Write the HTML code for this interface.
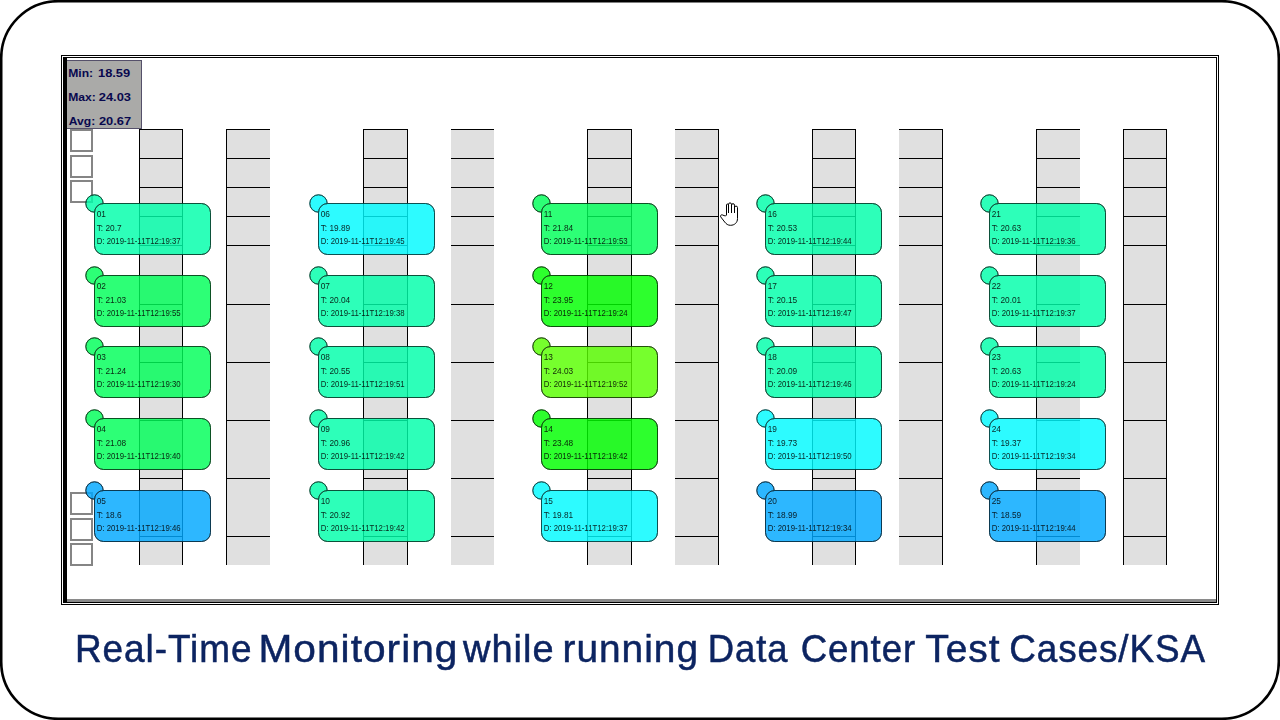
<!DOCTYPE html>
<html><head><meta charset="utf-8">
<style>
html,body{margin:0;padding:0;background:#fff;}
body{width:1280px;height:720px;overflow:hidden;position:relative;font-family:"Liberation Sans",sans-serif;}
.a{position:absolute;box-sizing:border-box;}
#outer{left:61px;top:55px;width:1158px;height:550px;border:1px solid #000;}
#inner{left:63px;top:57px;width:1154px;height:546px;border:1px solid #000;border-left:4px solid #000;background:#fff;}
#inner .gb{left:0;bottom:0;width:100%;height:3px;background:#8a8a8a;}
#stats{left:67px;top:60px;width:75px;height:69px;background:#aaaaa8;border:1px solid #55506a;border-left:0;}
.sq{width:23px;height:23px;border:2px solid #858585;background:#fff;}
.rk{background:#e0e0e0;border-top:1px solid #000;}
.hl{height:1px;background:#000;}
.vl{width:1px;background:#000;}
</style></head><body>
<svg class="a" style="left:0;top:0" width="1280" height="720"><rect x="1.2" y="1.2" width="1277.6" height="717.6" rx="57" ry="57" fill="none" stroke="#000" stroke-width="2.6"/></svg>
<div class="a" id="outer"></div>
<div class="a" id="inner"><div class="a gb"></div></div>

<div class="a rk" style="left:139px;top:129px;width:44px;height:436px"></div>
<div class="a vl" style="left:139px;top:129px;height:436px"></div>
<div class="a vl" style="left:182px;top:129px;height:436px"></div>
<div class="a hl" style="left:139px;top:158px;width:44px"></div>
<div class="a hl" style="left:139px;top:187px;width:44px"></div>
<div class="a hl" style="left:139px;top:216px;width:44px"></div>
<div class="a hl" style="left:139px;top:245px;width:44px"></div>
<div class="a hl" style="left:139px;top:304px;width:44px"></div>
<div class="a hl" style="left:139px;top:362px;width:44px"></div>
<div class="a hl" style="left:139px;top:420px;width:44px"></div>
<div class="a hl" style="left:139px;top:478px;width:44px"></div>
<div class="a hl" style="left:139px;top:536px;width:44px"></div>
<div class="a rk" style="left:226px;top:129px;width:44px;height:436px"></div>
<div class="a vl" style="left:226px;top:129px;height:436px"></div>
<div class="a hl" style="left:226px;top:158px;width:44px"></div>
<div class="a hl" style="left:226px;top:187px;width:44px"></div>
<div class="a hl" style="left:226px;top:216px;width:44px"></div>
<div class="a hl" style="left:226px;top:245px;width:44px"></div>
<div class="a hl" style="left:226px;top:304px;width:44px"></div>
<div class="a hl" style="left:226px;top:362px;width:44px"></div>
<div class="a hl" style="left:226px;top:420px;width:44px"></div>
<div class="a hl" style="left:226px;top:478px;width:44px"></div>
<div class="a hl" style="left:226px;top:536px;width:44px"></div>
<div class="a rk" style="left:363px;top:129px;width:45px;height:436px"></div>
<div class="a vl" style="left:363px;top:129px;height:436px"></div>
<div class="a vl" style="left:407px;top:129px;height:436px"></div>
<div class="a hl" style="left:363px;top:158px;width:45px"></div>
<div class="a hl" style="left:363px;top:187px;width:45px"></div>
<div class="a hl" style="left:363px;top:216px;width:45px"></div>
<div class="a hl" style="left:363px;top:245px;width:45px"></div>
<div class="a hl" style="left:363px;top:304px;width:45px"></div>
<div class="a hl" style="left:363px;top:362px;width:45px"></div>
<div class="a hl" style="left:363px;top:420px;width:45px"></div>
<div class="a hl" style="left:363px;top:478px;width:45px"></div>
<div class="a hl" style="left:363px;top:536px;width:45px"></div>
<div class="a rk" style="left:451px;top:129px;width:43px;height:436px"></div>
<div class="a hl" style="left:451px;top:158px;width:43px"></div>
<div class="a hl" style="left:451px;top:187px;width:43px"></div>
<div class="a hl" style="left:451px;top:216px;width:43px"></div>
<div class="a hl" style="left:451px;top:245px;width:43px"></div>
<div class="a hl" style="left:451px;top:304px;width:43px"></div>
<div class="a hl" style="left:451px;top:362px;width:43px"></div>
<div class="a hl" style="left:451px;top:420px;width:43px"></div>
<div class="a hl" style="left:451px;top:478px;width:43px"></div>
<div class="a hl" style="left:451px;top:536px;width:43px"></div>
<div class="a rk" style="left:587px;top:129px;width:45px;height:436px"></div>
<div class="a vl" style="left:587px;top:129px;height:436px"></div>
<div class="a vl" style="left:631px;top:129px;height:436px"></div>
<div class="a hl" style="left:587px;top:158px;width:45px"></div>
<div class="a hl" style="left:587px;top:187px;width:45px"></div>
<div class="a hl" style="left:587px;top:216px;width:45px"></div>
<div class="a hl" style="left:587px;top:245px;width:45px"></div>
<div class="a hl" style="left:587px;top:304px;width:45px"></div>
<div class="a hl" style="left:587px;top:362px;width:45px"></div>
<div class="a hl" style="left:587px;top:420px;width:45px"></div>
<div class="a hl" style="left:587px;top:478px;width:45px"></div>
<div class="a hl" style="left:587px;top:536px;width:45px"></div>
<div class="a rk" style="left:675px;top:129px;width:44px;height:436px"></div>
<div class="a vl" style="left:718px;top:129px;height:436px"></div>
<div class="a hl" style="left:675px;top:158px;width:44px"></div>
<div class="a hl" style="left:675px;top:187px;width:44px"></div>
<div class="a hl" style="left:675px;top:216px;width:44px"></div>
<div class="a hl" style="left:675px;top:245px;width:44px"></div>
<div class="a hl" style="left:675px;top:304px;width:44px"></div>
<div class="a hl" style="left:675px;top:362px;width:44px"></div>
<div class="a hl" style="left:675px;top:420px;width:44px"></div>
<div class="a hl" style="left:675px;top:478px;width:44px"></div>
<div class="a hl" style="left:675px;top:536px;width:44px"></div>
<div class="a rk" style="left:812px;top:129px;width:44px;height:436px"></div>
<div class="a vl" style="left:812px;top:129px;height:436px"></div>
<div class="a vl" style="left:855px;top:129px;height:436px"></div>
<div class="a hl" style="left:812px;top:158px;width:44px"></div>
<div class="a hl" style="left:812px;top:187px;width:44px"></div>
<div class="a hl" style="left:812px;top:216px;width:44px"></div>
<div class="a hl" style="left:812px;top:245px;width:44px"></div>
<div class="a hl" style="left:812px;top:304px;width:44px"></div>
<div class="a hl" style="left:812px;top:362px;width:44px"></div>
<div class="a hl" style="left:812px;top:420px;width:44px"></div>
<div class="a hl" style="left:812px;top:478px;width:44px"></div>
<div class="a hl" style="left:812px;top:536px;width:44px"></div>
<div class="a rk" style="left:899px;top:129px;width:44px;height:436px"></div>
<div class="a vl" style="left:942px;top:129px;height:436px"></div>
<div class="a hl" style="left:899px;top:158px;width:44px"></div>
<div class="a hl" style="left:899px;top:187px;width:44px"></div>
<div class="a hl" style="left:899px;top:216px;width:44px"></div>
<div class="a hl" style="left:899px;top:245px;width:44px"></div>
<div class="a hl" style="left:899px;top:304px;width:44px"></div>
<div class="a hl" style="left:899px;top:362px;width:44px"></div>
<div class="a hl" style="left:899px;top:420px;width:44px"></div>
<div class="a hl" style="left:899px;top:478px;width:44px"></div>
<div class="a hl" style="left:899px;top:536px;width:44px"></div>
<div class="a rk" style="left:1036px;top:129px;width:44px;height:436px"></div>
<div class="a vl" style="left:1036px;top:129px;height:436px"></div>
<div class="a hl" style="left:1036px;top:158px;width:44px"></div>
<div class="a hl" style="left:1036px;top:187px;width:44px"></div>
<div class="a hl" style="left:1036px;top:216px;width:44px"></div>
<div class="a hl" style="left:1036px;top:245px;width:44px"></div>
<div class="a hl" style="left:1036px;top:304px;width:44px"></div>
<div class="a hl" style="left:1036px;top:362px;width:44px"></div>
<div class="a hl" style="left:1036px;top:420px;width:44px"></div>
<div class="a hl" style="left:1036px;top:478px;width:44px"></div>
<div class="a hl" style="left:1036px;top:536px;width:44px"></div>
<div class="a rk" style="left:1123px;top:129px;width:44px;height:436px"></div>
<div class="a vl" style="left:1123px;top:129px;height:436px"></div>
<div class="a vl" style="left:1166px;top:129px;height:436px"></div>
<div class="a hl" style="left:1123px;top:158px;width:44px"></div>
<div class="a hl" style="left:1123px;top:187px;width:44px"></div>
<div class="a hl" style="left:1123px;top:216px;width:44px"></div>
<div class="a hl" style="left:1123px;top:245px;width:44px"></div>
<div class="a hl" style="left:1123px;top:304px;width:44px"></div>
<div class="a hl" style="left:1123px;top:362px;width:44px"></div>
<div class="a hl" style="left:1123px;top:420px;width:44px"></div>
<div class="a hl" style="left:1123px;top:478px;width:44px"></div>
<div class="a hl" style="left:1123px;top:536px;width:44px"></div>
<div class="a" id="stats"></div>
<svg class="a" style="left:0;top:0" width="1280" height="720" viewBox="0 0 1280 720"><g font-family="Liberation Sans" font-weight="bold" font-size="11.20" fill="#08084e">
<text transform="translate(68.30 76.90) scale(1.080 1)">Min:</text>
<text transform="translate(98.00 76.90) scale(1.150 1)">18.59</text>
<text transform="translate(68.30 100.80) scale(1.080 1)">Max:</text>
<text transform="translate(98.80 100.80) scale(1.150 1)">24.03</text>
<text transform="translate(68.80 124.90) scale(1.080 1)">Avg:</text>
<text transform="translate(98.90 124.90) scale(1.150 1)">20.67</text>
</g></svg>
<div class="a sq" style="left:70px;top:129px"></div>
<div class="a sq" style="left:70px;top:155px"></div>
<div class="a sq" style="left:70px;top:180px"></div>
<div class="a sq" style="left:70px;top:492px"></div>
<div class="a sq" style="left:70px;top:518px"></div>
<div class="a sq" style="left:70px;top:543px"></div>
<svg class="a" style="left:0;top:0" width="1280" height="720" viewBox="0 0 1280 720"><g opacity="0.82">
<circle cx="94.5" cy="203.5" r="8.7" fill="rgb(0,255,170)" stroke="rgb(0,76,51)" stroke-width="1"/>
<rect x="94.5" y="203.5" width="116.0" height="51.0" rx="9.0" fill="rgb(0,255,170)" stroke="rgb(0,76,51)" stroke-width="1"/>
<circle cx="94.5" cy="275.5" r="8.7" fill="rgb(0,255,89)" stroke="rgb(0,76,26)" stroke-width="1"/>
<rect x="94.5" y="275.5" width="116.0" height="51.0" rx="9.0" fill="rgb(0,255,89)" stroke="rgb(0,76,26)" stroke-width="1"/>
<circle cx="94.5" cy="346.5" r="8.7" fill="rgb(0,255,89)" stroke="rgb(0,76,26)" stroke-width="1"/>
<rect x="94.5" y="346.5" width="116.0" height="51.0" rx="9.0" fill="rgb(0,255,89)" stroke="rgb(0,76,26)" stroke-width="1"/>
<circle cx="94.5" cy="418.5" r="8.7" fill="rgb(0,255,89)" stroke="rgb(0,76,26)" stroke-width="1"/>
<rect x="94.5" y="418.5" width="116.0" height="51.0" rx="9.0" fill="rgb(0,255,89)" stroke="rgb(0,76,26)" stroke-width="1"/>
<circle cx="94.5" cy="490.5" r="8.7" fill="rgb(0,168,255)" stroke="rgb(0,50,76)" stroke-width="1"/>
<rect x="94.5" y="490.5" width="116.0" height="51.0" rx="9.0" fill="rgb(0,168,255)" stroke="rgb(0,50,76)" stroke-width="1"/>
<circle cx="318.5" cy="203.5" r="8.7" fill="rgb(0,251,255)" stroke="rgb(0,75,76)" stroke-width="1"/>
<rect x="318.5" y="203.5" width="116.0" height="51.0" rx="9.0" fill="rgb(0,251,255)" stroke="rgb(0,75,76)" stroke-width="1"/>
<circle cx="318.5" cy="275.5" r="8.7" fill="rgb(0,255,170)" stroke="rgb(0,76,51)" stroke-width="1"/>
<rect x="318.5" y="275.5" width="116.0" height="51.0" rx="9.0" fill="rgb(0,255,170)" stroke="rgb(0,76,51)" stroke-width="1"/>
<circle cx="318.5" cy="346.5" r="8.7" fill="rgb(0,255,170)" stroke="rgb(0,76,51)" stroke-width="1"/>
<rect x="318.5" y="346.5" width="116.0" height="51.0" rx="9.0" fill="rgb(0,255,170)" stroke="rgb(0,76,51)" stroke-width="1"/>
<circle cx="318.5" cy="418.5" r="8.7" fill="rgb(0,255,170)" stroke="rgb(0,76,51)" stroke-width="1"/>
<rect x="318.5" y="418.5" width="116.0" height="51.0" rx="9.0" fill="rgb(0,255,170)" stroke="rgb(0,76,51)" stroke-width="1"/>
<circle cx="318.5" cy="490.5" r="8.7" fill="rgb(0,255,170)" stroke="rgb(0,76,51)" stroke-width="1"/>
<rect x="318.5" y="490.5" width="116.0" height="51.0" rx="9.0" fill="rgb(0,255,170)" stroke="rgb(0,76,51)" stroke-width="1"/>
<circle cx="541.5" cy="203.5" r="8.7" fill="rgb(0,255,89)" stroke="rgb(0,76,26)" stroke-width="1"/>
<rect x="541.5" y="203.5" width="116.0" height="51.0" rx="9.0" fill="rgb(0,255,89)" stroke="rgb(0,76,26)" stroke-width="1"/>
<circle cx="541.5" cy="275.5" r="8.7" fill="rgb(0,255,0)" stroke="rgb(0,76,0)" stroke-width="1"/>
<rect x="541.5" y="275.5" width="116.0" height="51.0" rx="9.0" fill="rgb(0,255,0)" stroke="rgb(0,76,0)" stroke-width="1"/>
<circle cx="541.5" cy="346.5" r="8.7" fill="rgb(89,255,0)" stroke="rgb(26,76,0)" stroke-width="1"/>
<rect x="541.5" y="346.5" width="116.0" height="51.0" rx="9.0" fill="rgb(89,255,0)" stroke="rgb(26,76,0)" stroke-width="1"/>
<circle cx="541.5" cy="418.5" r="8.7" fill="rgb(0,255,0)" stroke="rgb(0,76,0)" stroke-width="1"/>
<rect x="541.5" y="418.5" width="116.0" height="51.0" rx="9.0" fill="rgb(0,255,0)" stroke="rgb(0,76,0)" stroke-width="1"/>
<circle cx="541.5" cy="490.5" r="8.7" fill="rgb(0,251,255)" stroke="rgb(0,75,76)" stroke-width="1"/>
<rect x="541.5" y="490.5" width="116.0" height="51.0" rx="9.0" fill="rgb(0,251,255)" stroke="rgb(0,75,76)" stroke-width="1"/>
<circle cx="765.5" cy="203.5" r="8.7" fill="rgb(0,255,170)" stroke="rgb(0,76,51)" stroke-width="1"/>
<rect x="765.5" y="203.5" width="116.0" height="51.0" rx="9.0" fill="rgb(0,255,170)" stroke="rgb(0,76,51)" stroke-width="1"/>
<circle cx="765.5" cy="275.5" r="8.7" fill="rgb(0,255,170)" stroke="rgb(0,76,51)" stroke-width="1"/>
<rect x="765.5" y="275.5" width="116.0" height="51.0" rx="9.0" fill="rgb(0,255,170)" stroke="rgb(0,76,51)" stroke-width="1"/>
<circle cx="765.5" cy="346.5" r="8.7" fill="rgb(0,255,170)" stroke="rgb(0,76,51)" stroke-width="1"/>
<rect x="765.5" y="346.5" width="116.0" height="51.0" rx="9.0" fill="rgb(0,255,170)" stroke="rgb(0,76,51)" stroke-width="1"/>
<circle cx="765.5" cy="418.5" r="8.7" fill="rgb(0,251,255)" stroke="rgb(0,75,76)" stroke-width="1"/>
<rect x="765.5" y="418.5" width="116.0" height="51.0" rx="9.0" fill="rgb(0,251,255)" stroke="rgb(0,75,76)" stroke-width="1"/>
<circle cx="765.5" cy="490.5" r="8.7" fill="rgb(0,168,255)" stroke="rgb(0,50,76)" stroke-width="1"/>
<rect x="765.5" y="490.5" width="116.0" height="51.0" rx="9.0" fill="rgb(0,168,255)" stroke="rgb(0,50,76)" stroke-width="1"/>
<circle cx="989.5" cy="203.5" r="8.7" fill="rgb(0,255,170)" stroke="rgb(0,76,51)" stroke-width="1"/>
<rect x="989.5" y="203.5" width="116.0" height="51.0" rx="9.0" fill="rgb(0,255,170)" stroke="rgb(0,76,51)" stroke-width="1"/>
<circle cx="989.5" cy="275.5" r="8.7" fill="rgb(0,255,170)" stroke="rgb(0,76,51)" stroke-width="1"/>
<rect x="989.5" y="275.5" width="116.0" height="51.0" rx="9.0" fill="rgb(0,255,170)" stroke="rgb(0,76,51)" stroke-width="1"/>
<circle cx="989.5" cy="346.5" r="8.7" fill="rgb(0,255,170)" stroke="rgb(0,76,51)" stroke-width="1"/>
<rect x="989.5" y="346.5" width="116.0" height="51.0" rx="9.0" fill="rgb(0,255,170)" stroke="rgb(0,76,51)" stroke-width="1"/>
<circle cx="989.5" cy="418.5" r="8.7" fill="rgb(0,251,255)" stroke="rgb(0,75,76)" stroke-width="1"/>
<rect x="989.5" y="418.5" width="116.0" height="51.0" rx="9.0" fill="rgb(0,251,255)" stroke="rgb(0,75,76)" stroke-width="1"/>
<circle cx="989.5" cy="490.5" r="8.7" fill="rgb(0,168,255)" stroke="rgb(0,50,76)" stroke-width="1"/>
<rect x="989.5" y="490.5" width="116.0" height="51.0" rx="9.0" fill="rgb(0,168,255)" stroke="rgb(0,50,76)" stroke-width="1"/>
</g>
<defs><mask id="cm" maskUnits="userSpaceOnUse" x="0" y="0" width="1280" height="720"><rect x="0" y="0" width="1280" height="720" fill="#fff"/>
<rect x="95.0" y="204.0" width="115.0" height="50.0" rx="9.0" fill="#000"/>
<rect x="95.0" y="276.0" width="115.0" height="50.0" rx="9.0" fill="#000"/>
<rect x="95.0" y="347.0" width="115.0" height="50.0" rx="9.0" fill="#000"/>
<rect x="95.0" y="419.0" width="115.0" height="50.0" rx="9.0" fill="#000"/>
<rect x="95.0" y="491.0" width="115.0" height="50.0" rx="9.0" fill="#000"/>
<rect x="319.0" y="204.0" width="115.0" height="50.0" rx="9.0" fill="#000"/>
<rect x="319.0" y="276.0" width="115.0" height="50.0" rx="9.0" fill="#000"/>
<rect x="319.0" y="347.0" width="115.0" height="50.0" rx="9.0" fill="#000"/>
<rect x="319.0" y="419.0" width="115.0" height="50.0" rx="9.0" fill="#000"/>
<rect x="319.0" y="491.0" width="115.0" height="50.0" rx="9.0" fill="#000"/>
<rect x="542.0" y="204.0" width="115.0" height="50.0" rx="9.0" fill="#000"/>
<rect x="542.0" y="276.0" width="115.0" height="50.0" rx="9.0" fill="#000"/>
<rect x="542.0" y="347.0" width="115.0" height="50.0" rx="9.0" fill="#000"/>
<rect x="542.0" y="419.0" width="115.0" height="50.0" rx="9.0" fill="#000"/>
<rect x="542.0" y="491.0" width="115.0" height="50.0" rx="9.0" fill="#000"/>
<rect x="766.0" y="204.0" width="115.0" height="50.0" rx="9.0" fill="#000"/>
<rect x="766.0" y="276.0" width="115.0" height="50.0" rx="9.0" fill="#000"/>
<rect x="766.0" y="347.0" width="115.0" height="50.0" rx="9.0" fill="#000"/>
<rect x="766.0" y="419.0" width="115.0" height="50.0" rx="9.0" fill="#000"/>
<rect x="766.0" y="491.0" width="115.0" height="50.0" rx="9.0" fill="#000"/>
<rect x="990.0" y="204.0" width="115.0" height="50.0" rx="9.0" fill="#000"/>
<rect x="990.0" y="276.0" width="115.0" height="50.0" rx="9.0" fill="#000"/>
<rect x="990.0" y="347.0" width="115.0" height="50.0" rx="9.0" fill="#000"/>
<rect x="990.0" y="419.0" width="115.0" height="50.0" rx="9.0" fill="#000"/>
<rect x="990.0" y="491.0" width="115.0" height="50.0" rx="9.0" fill="#000"/>
</mask></defs><g fill="none" stroke-width="1">
<circle cx="94.5" cy="203.5" r="8.7" stroke="rgba(0,71,47,0.72)" mask="url(#cm)"/>
<rect x="94.5" y="203.5" width="116.0" height="51.0" rx="9.0" stroke="rgba(0,71,47,0.72)"/>
<circle cx="94.5" cy="275.5" r="8.7" stroke="rgba(0,71,24,0.72)" mask="url(#cm)"/>
<rect x="94.5" y="275.5" width="116.0" height="51.0" rx="9.0" stroke="rgba(0,71,24,0.72)"/>
<circle cx="94.5" cy="346.5" r="8.7" stroke="rgba(0,71,24,0.72)" mask="url(#cm)"/>
<rect x="94.5" y="346.5" width="116.0" height="51.0" rx="9.0" stroke="rgba(0,71,24,0.72)"/>
<circle cx="94.5" cy="418.5" r="8.7" stroke="rgba(0,71,24,0.72)" mask="url(#cm)"/>
<rect x="94.5" y="418.5" width="116.0" height="51.0" rx="9.0" stroke="rgba(0,71,24,0.72)"/>
<circle cx="94.5" cy="490.5" r="8.7" stroke="rgba(0,47,71,0.72)" mask="url(#cm)"/>
<rect x="94.5" y="490.5" width="116.0" height="51.0" rx="9.0" stroke="rgba(0,47,71,0.72)"/>
<circle cx="318.5" cy="203.5" r="8.7" stroke="rgba(0,70,71,0.72)" mask="url(#cm)"/>
<rect x="318.5" y="203.5" width="116.0" height="51.0" rx="9.0" stroke="rgba(0,70,71,0.72)"/>
<circle cx="318.5" cy="275.5" r="8.7" stroke="rgba(0,71,47,0.72)" mask="url(#cm)"/>
<rect x="318.5" y="275.5" width="116.0" height="51.0" rx="9.0" stroke="rgba(0,71,47,0.72)"/>
<circle cx="318.5" cy="346.5" r="8.7" stroke="rgba(0,71,47,0.72)" mask="url(#cm)"/>
<rect x="318.5" y="346.5" width="116.0" height="51.0" rx="9.0" stroke="rgba(0,71,47,0.72)"/>
<circle cx="318.5" cy="418.5" r="8.7" stroke="rgba(0,71,47,0.72)" mask="url(#cm)"/>
<rect x="318.5" y="418.5" width="116.0" height="51.0" rx="9.0" stroke="rgba(0,71,47,0.72)"/>
<circle cx="318.5" cy="490.5" r="8.7" stroke="rgba(0,71,47,0.72)" mask="url(#cm)"/>
<rect x="318.5" y="490.5" width="116.0" height="51.0" rx="9.0" stroke="rgba(0,71,47,0.72)"/>
<circle cx="541.5" cy="203.5" r="8.7" stroke="rgba(0,71,24,0.72)" mask="url(#cm)"/>
<rect x="541.5" y="203.5" width="116.0" height="51.0" rx="9.0" stroke="rgba(0,71,24,0.72)"/>
<circle cx="541.5" cy="275.5" r="8.7" stroke="rgba(0,71,0,0.72)" mask="url(#cm)"/>
<rect x="541.5" y="275.5" width="116.0" height="51.0" rx="9.0" stroke="rgba(0,71,0,0.72)"/>
<circle cx="541.5" cy="346.5" r="8.7" stroke="rgba(24,71,0,0.72)" mask="url(#cm)"/>
<rect x="541.5" y="346.5" width="116.0" height="51.0" rx="9.0" stroke="rgba(24,71,0,0.72)"/>
<circle cx="541.5" cy="418.5" r="8.7" stroke="rgba(0,71,0,0.72)" mask="url(#cm)"/>
<rect x="541.5" y="418.5" width="116.0" height="51.0" rx="9.0" stroke="rgba(0,71,0,0.72)"/>
<circle cx="541.5" cy="490.5" r="8.7" stroke="rgba(0,70,71,0.72)" mask="url(#cm)"/>
<rect x="541.5" y="490.5" width="116.0" height="51.0" rx="9.0" stroke="rgba(0,70,71,0.72)"/>
<circle cx="765.5" cy="203.5" r="8.7" stroke="rgba(0,71,47,0.72)" mask="url(#cm)"/>
<rect x="765.5" y="203.5" width="116.0" height="51.0" rx="9.0" stroke="rgba(0,71,47,0.72)"/>
<circle cx="765.5" cy="275.5" r="8.7" stroke="rgba(0,71,47,0.72)" mask="url(#cm)"/>
<rect x="765.5" y="275.5" width="116.0" height="51.0" rx="9.0" stroke="rgba(0,71,47,0.72)"/>
<circle cx="765.5" cy="346.5" r="8.7" stroke="rgba(0,71,47,0.72)" mask="url(#cm)"/>
<rect x="765.5" y="346.5" width="116.0" height="51.0" rx="9.0" stroke="rgba(0,71,47,0.72)"/>
<circle cx="765.5" cy="418.5" r="8.7" stroke="rgba(0,70,71,0.72)" mask="url(#cm)"/>
<rect x="765.5" y="418.5" width="116.0" height="51.0" rx="9.0" stroke="rgba(0,70,71,0.72)"/>
<circle cx="765.5" cy="490.5" r="8.7" stroke="rgba(0,47,71,0.72)" mask="url(#cm)"/>
<rect x="765.5" y="490.5" width="116.0" height="51.0" rx="9.0" stroke="rgba(0,47,71,0.72)"/>
<circle cx="989.5" cy="203.5" r="8.7" stroke="rgba(0,71,47,0.72)" mask="url(#cm)"/>
<rect x="989.5" y="203.5" width="116.0" height="51.0" rx="9.0" stroke="rgba(0,71,47,0.72)"/>
<circle cx="989.5" cy="275.5" r="8.7" stroke="rgba(0,71,47,0.72)" mask="url(#cm)"/>
<rect x="989.5" y="275.5" width="116.0" height="51.0" rx="9.0" stroke="rgba(0,71,47,0.72)"/>
<circle cx="989.5" cy="346.5" r="8.7" stroke="rgba(0,71,47,0.72)" mask="url(#cm)"/>
<rect x="989.5" y="346.5" width="116.0" height="51.0" rx="9.0" stroke="rgba(0,71,47,0.72)"/>
<circle cx="989.5" cy="418.5" r="8.7" stroke="rgba(0,70,71,0.72)" mask="url(#cm)"/>
<rect x="989.5" y="418.5" width="116.0" height="51.0" rx="9.0" stroke="rgba(0,70,71,0.72)"/>
<circle cx="989.5" cy="490.5" r="8.7" stroke="rgba(0,47,71,0.72)" mask="url(#cm)"/>
<rect x="989.5" y="490.5" width="116.0" height="51.0" rx="9.0" stroke="rgba(0,47,71,0.72)"/>
</g>
</svg>
<svg class="a" style="left:0;top:0" width="1280" height="720" viewBox="0 0 1280 720"><g font-family="Liberation Sans" font-size="8.40" fill="#000" stroke="#000" stroke-width="0" opacity="0.85">
<text transform="translate(96.70 217.10) scale(0.990 1)">01</text>
<text transform="translate(96.70 231.10) scale(0.990 1)">T: 20.7</text>
<text transform="translate(96.70 244.40) scale(0.930 1)">D: 2019-11-11T12:19:37</text>
<text transform="translate(96.70 289.10) scale(0.990 1)">02</text>
<text transform="translate(96.70 303.10) scale(0.990 1)">T: 21.03</text>
<text transform="translate(96.70 316.40) scale(0.930 1)">D: 2019-11-11T12:19:55</text>
<text transform="translate(96.70 360.10) scale(0.990 1)">03</text>
<text transform="translate(96.70 374.10) scale(0.990 1)">T: 21.24</text>
<text transform="translate(96.70 387.40) scale(0.930 1)">D: 2019-11-11T12:19:30</text>
<text transform="translate(96.70 432.10) scale(0.990 1)">04</text>
<text transform="translate(96.70 446.10) scale(0.990 1)">T: 21.08</text>
<text transform="translate(96.70 459.40) scale(0.930 1)">D: 2019-11-11T12:19:40</text>
<text transform="translate(96.70 504.10) scale(0.990 1)">05</text>
<text transform="translate(96.70 518.10) scale(0.990 1)">T: 18.6</text>
<text transform="translate(96.70 531.40) scale(0.930 1)">D: 2019-11-11T12:19:46</text>
<text transform="translate(320.70 217.10) scale(0.990 1)">06</text>
<text transform="translate(320.70 231.10) scale(0.990 1)">T: 19.89</text>
<text transform="translate(320.70 244.40) scale(0.930 1)">D: 2019-11-11T12:19:45</text>
<text transform="translate(320.70 289.10) scale(0.990 1)">07</text>
<text transform="translate(320.70 303.10) scale(0.990 1)">T: 20.04</text>
<text transform="translate(320.70 316.40) scale(0.930 1)">D: 2019-11-11T12:19:38</text>
<text transform="translate(320.70 360.10) scale(0.990 1)">08</text>
<text transform="translate(320.70 374.10) scale(0.990 1)">T: 20.55</text>
<text transform="translate(320.70 387.40) scale(0.930 1)">D: 2019-11-11T12:19:51</text>
<text transform="translate(320.70 432.10) scale(0.990 1)">09</text>
<text transform="translate(320.70 446.10) scale(0.990 1)">T: 20.96</text>
<text transform="translate(320.70 459.40) scale(0.930 1)">D: 2019-11-11T12:19:42</text>
<text transform="translate(320.70 504.10) scale(0.990 1)">10</text>
<text transform="translate(320.70 518.10) scale(0.990 1)">T: 20.92</text>
<text transform="translate(320.70 531.40) scale(0.930 1)">D: 2019-11-11T12:19:42</text>
<text transform="translate(543.70 217.10) scale(0.990 1)">11</text>
<text transform="translate(543.70 231.10) scale(0.990 1)">T: 21.84</text>
<text transform="translate(543.70 244.40) scale(0.930 1)">D: 2019-11-11T12:19:53</text>
<text transform="translate(543.70 289.10) scale(0.990 1)">12</text>
<text transform="translate(543.70 303.10) scale(0.990 1)">T: 23.95</text>
<text transform="translate(543.70 316.40) scale(0.930 1)">D: 2019-11-11T12:19:24</text>
<text transform="translate(543.70 360.10) scale(0.990 1)">13</text>
<text transform="translate(543.70 374.10) scale(0.990 1)">T: 24.03</text>
<text transform="translate(543.70 387.40) scale(0.930 1)">D: 2019-11-11T12:19:52</text>
<text transform="translate(543.70 432.10) scale(0.990 1)">14</text>
<text transform="translate(543.70 446.10) scale(0.990 1)">T: 23.48</text>
<text transform="translate(543.70 459.40) scale(0.930 1)">D: 2019-11-11T12:19:42</text>
<text transform="translate(543.70 504.10) scale(0.990 1)">15</text>
<text transform="translate(543.70 518.10) scale(0.990 1)">T: 19.81</text>
<text transform="translate(543.70 531.40) scale(0.930 1)">D: 2019-11-11T12:19:37</text>
<text transform="translate(767.70 217.10) scale(0.990 1)">16</text>
<text transform="translate(767.70 231.10) scale(0.990 1)">T: 20.53</text>
<text transform="translate(767.70 244.40) scale(0.930 1)">D: 2019-11-11T12:19:44</text>
<text transform="translate(767.70 289.10) scale(0.990 1)">17</text>
<text transform="translate(767.70 303.10) scale(0.990 1)">T: 20.15</text>
<text transform="translate(767.70 316.40) scale(0.930 1)">D: 2019-11-11T12:19:47</text>
<text transform="translate(767.70 360.10) scale(0.990 1)">18</text>
<text transform="translate(767.70 374.10) scale(0.990 1)">T: 20.09</text>
<text transform="translate(767.70 387.40) scale(0.930 1)">D: 2019-11-11T12:19:46</text>
<text transform="translate(767.70 432.10) scale(0.990 1)">19</text>
<text transform="translate(767.70 446.10) scale(0.990 1)">T: 19.73</text>
<text transform="translate(767.70 459.40) scale(0.930 1)">D: 2019-11-11T12:19:50</text>
<text transform="translate(767.70 504.10) scale(0.990 1)">20</text>
<text transform="translate(767.70 518.10) scale(0.990 1)">T: 18.99</text>
<text transform="translate(767.70 531.40) scale(0.930 1)">D: 2019-11-11T12:19:34</text>
<text transform="translate(991.70 217.10) scale(0.990 1)">21</text>
<text transform="translate(991.70 231.10) scale(0.990 1)">T: 20.63</text>
<text transform="translate(991.70 244.40) scale(0.930 1)">D: 2019-11-11T12:19:36</text>
<text transform="translate(991.70 289.10) scale(0.990 1)">22</text>
<text transform="translate(991.70 303.10) scale(0.990 1)">T: 20.01</text>
<text transform="translate(991.70 316.40) scale(0.930 1)">D: 2019-11-11T12:19:37</text>
<text transform="translate(991.70 360.10) scale(0.990 1)">23</text>
<text transform="translate(991.70 374.10) scale(0.990 1)">T: 20.63</text>
<text transform="translate(991.70 387.40) scale(0.930 1)">D: 2019-11-11T12:19:24</text>
<text transform="translate(991.70 432.10) scale(0.990 1)">24</text>
<text transform="translate(991.70 446.10) scale(0.990 1)">T: 19.37</text>
<text transform="translate(991.70 459.40) scale(0.930 1)">D: 2019-11-11T12:19:34</text>
<text transform="translate(991.70 504.10) scale(0.990 1)">25</text>
<text transform="translate(991.70 518.10) scale(0.990 1)">T: 18.59</text>
<text transform="translate(991.70 531.40) scale(0.930 1)">D: 2019-11-11T12:19:44</text>
</g></svg>
<svg class="a" style="left:716px;top:200px" width="26" height="30" viewBox="0 0 26 30">
<path d="M10.5 15 V5 a1 1 0 0 1 2 0 V13 V4.4 a1.5 1.5 0 0 1 3 0 V13 V5.2 a1.5 1.5 0 0 1 3 0 V13 V7.6 a1.5 1.5 0 0 1 3 0 V18.5 c0 4.2 -3 6.8 -7 6.8 c-2.6 0 -4.2 -1.2 -5.8 -3.3 l-3.9 -5 c-0.8 -1.1 0.2 -2.5 1.5 -2.1 c1.3 0.4 2.3 1 3.2 1.1 z" fill="#fff" stroke="#000" stroke-width="1" stroke-linejoin="round"/>
</svg>
<svg class="a" style="left:0;top:0" width="1280" height="720" viewBox="0 0 1280 720"><g font-family="Liberation Sans" font-size="39.40" letter-spacing="1" fill="#0c2461" stroke="#0c2461" stroke-width="0.5">
<text transform="translate(74.99 662) scale(0.938 1)">Real-Time</text>
<text transform="translate(258.51 662) scale(1.031 1)">Monitoring</text>
<text transform="translate(463.10 662) scale(0.965 1)">while</text>
<text transform="translate(562.54 662) scale(0.986 1)">running</text>
<text transform="translate(707.82 662) scale(0.926 1)">Data</text>
<text transform="translate(800.64 662) scale(0.930 1)">Center</text>
<text transform="translate(925.21 662) scale(0.988 1)">Test</text>
<text transform="translate(1009.13 662) scale(0.936 1)">Cases/KSA</text>
</g></svg>
</body></html>
